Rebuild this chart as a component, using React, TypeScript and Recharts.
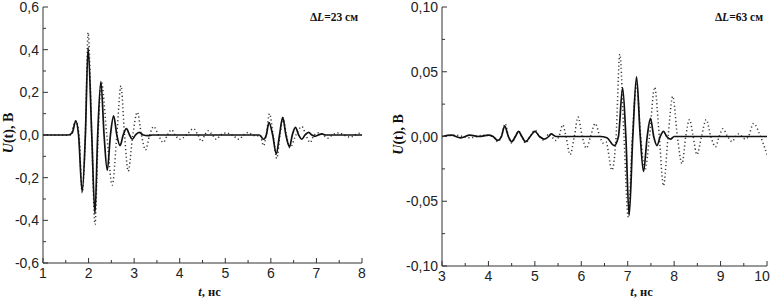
import React from 'react';
import { LineChart, Line, XAxis, YAxis, Label } from 'recharts';

// left panel, ΔL = 23 см : [t (нс), U (В)]
const leftSolid: [number, number][] = [
  [1.0, 0], [1.55, 0], [1.64, 0.01], [1.72, 0.066], [1.78, 0], [1.86, -0.266], [1.93, 0], [1.99, 0.41],
  [2.07, 0], [2.14, -0.37], [2.2, 0], [2.27, 0.25], [2.34, 0], [2.41, -0.165], [2.48, 0], [2.55, 0.09],
  [2.62, 0], [2.69, -0.05], [2.76, 0], [2.83, 0.03], [2.9, 0], [2.96, -0.02], [3.03, 0], [3.11, 0.012],
  [3.2, 0], [3.3, -0.003], [3.4, 0], [5.75, 0], [5.84, -0.02], [5.9, 0], [5.96, 0.058], [6.04, 0],
  [6.12, -0.089], [6.19, 0], [6.26, 0.083], [6.33, 0], [6.41, -0.055], [6.47, 0], [6.54, 0.036], [6.61, 0],
  [6.68, -0.02], [6.75, 0], [6.83, 0.012], [6.9, 0], [6.97, -0.006], [7.04, 0], [7.12, 0.005], [7.2, 0], [8, 0],
];
const leftDotted: [number, number][] = [
  [1, 0], [1.6, 0], [1.72, 0.066], [1.79, 0], [1.86, -0.27], [1.93, 0], [1.99, 0.48], [2.07, 0],
  [2.14, -0.42], [2.21, 0], [2.28, 0.25], [2.4, 0], [2.52, -0.235], [2.62, 0], [2.71, 0.23], [2.79, 0],
  [2.87, -0.17], [2.97, 0], [3.07, 0.107], [3.16, 0], [3.25, -0.07], [3.34, 0], [3.43, 0.04], [3.53, 0],
  [3.64, -0.035], [3.73, 0], [3.82, 0.025], [3.9, 0], [4.0, -0.02], [4.15, 0], [4.3, 0.03], [4.4, 0],
  [4.48, -0.03], [4.55, 0], [4.62, 0.02], [4.72, 0], [4.8, -0.02], [4.9, 0], [5.02, 0.01], [5.15, 0],
  [5.3, -0.02], [5.4, 0], [5.5, 0.012], [5.6, 0], [5.7, -0.005], [5.76, 0], [5.84, -0.05], [5.9, 0],
  [5.97, 0.1], [6.05, 0], [6.13, -0.11], [6.2, 0], [6.27, 0.08], [6.34, 0], [6.42, -0.06], [6.55, 0],
  [6.68, 0.04], [6.77, 0], [6.86, -0.035], [6.95, 0], [7.05, 0.01], [7.15, 0], [7.25, -0.015], [7.35, 0],
  [7.5, 0.01], [7.6, 0], [7.75, -0.01], [7.85, 0], [7.95, 0.008], [8, 0],
];

// right panel, ΔL = 63 см
const rightSolid: [number, number][] = [
  [3, 0], [3.2, 0.001], [3.4, -0.001], [3.6, 0.001], [3.8, 0], [4.0, 0.001], [4.1, 0], [4.2, -0.003],
  [4.28, 0], [4.35, 0.008], [4.43, 0], [4.5, -0.004], [4.58, 0], [4.65, 0.004], [4.72, 0], [4.8, -0.004],
  [4.9, 0], [5.0, 0.004], [5.1, 0], [5.2, -0.002], [5.3, 0], [5.35, 0.002], [5.45, 0], [6.4, 0],
  [6.55, -0.001], [6.71, -0.007], [6.8, 0], [6.89, 0.0376], [6.96, 0], [7.03, -0.061], [7.11, 0],
  [7.19, 0.046], [7.27, 0], [7.34, -0.027], [7.42, 0], [7.49, 0.014], [7.56, 0], [7.63, -0.007], [7.7, 0],
  [7.77, 0.004], [7.84, 0], [7.92, -0.002], [8.0, 0], [10, 0],
];
const rightDotted: [number, number][] = [
  [3, 0], [3.3, 0.001], [3.6, -0.001], [3.9, 0.001], [4.1, 0], [4.2, -0.004], [4.28, 0], [4.36, 0.01],
  [4.43, 0], [4.5, -0.005], [4.58, 0], [4.65, 0.004], [4.72, 0], [4.8, -0.005], [4.9, 0], [5.0, 0.005],
  [5.1, 0], [5.2, -0.003], [5.3, 0.002], [5.45, -0.003], [5.52, 0], [5.6, 0.009], [5.67, 0], [5.76, -0.014],
  [5.85, 0], [5.93, 0.015], [6.02, 0], [6.11, -0.009], [6.2, 0], [6.3, 0.01], [6.4, 0], [6.47, -0.005],
  [6.53, -0.004], [6.66, -0.026], [6.75, 0], [6.83, 0.0635], [6.92, 0], [7.01, -0.062], [7.1, 0],
  [7.19, 0.04], [7.28, 0], [7.37, -0.026], [7.47, 0], [7.58, 0.038], [7.68, 0], [7.77, -0.038], [7.87, 0],
  [7.97, 0.031], [8.07, 0], [8.17, -0.021], [8.25, 0], [8.33, 0.013], [8.41, 0], [8.49, -0.014], [8.59, 0],
  [8.69, 0.013], [8.79, 0], [8.89, -0.008], [8.97, 0], [9.05, 0.006], [9.15, 0], [9.25, -0.004], [9.32, 0],
  [9.39, 0.002], [9.46, 0], [9.53, -0.002], [9.6, 0], [9.71, 0.01], [9.86, 0], [10, -0.014],
];

// ticks: even index = major (labelled), odd index = minor
const leftXTicks = [1, 1.5, 2, 2.5, 3, 3.5, 4, 4.5, 5, 5.5, 6, 6.5, 7, 7.5, 8];
const leftXLabels = ['1', '2', '3', '4', '5', '6', '7', '8'];
const leftYTicks = [-0.6, -0.5, -0.4, -0.3, -0.2, -0.1, 0, 0.1, 0.2, 0.3, 0.4, 0.5, 0.6];
const leftYLabels = ['-0,6', '-0,4', '-0,2', '0,0', '0,2', '0,4', '0,6'];
const rightXTicks = [3, 3.5, 4, 4.5, 5, 5.5, 6, 6.5, 7, 7.5, 8, 8.5, 9, 9.5, 10];
const rightXLabels = ['3', '4', '5', '6', '7', '8', '9', '10'];
const rightYTicks = [-0.1, -0.075, -0.05, -0.025, 0, 0.025, 0.05, 0.075, 0.1];
const rightYLabels = ['-0,10', '-0,05', '0,00', '0,05', '0,10'];

const toRows = (pts: [number, number][]) => pts.map(([t, u]) => ({ t, u }));

const AXIS = '#333';
const tickFont = { fontFamily: 'Liberation Sans, Arial, sans-serif', fontSize: 14, fill: '#222' };
const serif = 'Liberation Serif, Times New Roman, serif';

const makeXTick = (labels: string[], lastShift: number) => (props: any) => {
  const { x, y, index } = props;
  const major = index % 2 === 0;
  const isLast = index / 2 === labels.length - 1;
  return (
    <g>
      <line x1={x} y1={y} x2={x} y2={y - (major ? 5 : 3)} stroke={AXIS} />
      {major && (
        <text x={x + (isLast ? lastShift : 0)} y={y + 15} textAnchor="middle" {...tickFont}>
          {labels[index / 2]}
        </text>
      )}
    </g>
  );
};

const makeYTick = (labels: string[]) => (props: any) => {
  const { x, y, index } = props;
  const major = index % 2 === 0;
  return (
    <g>
      <line x1={x} y1={y} x2={x + (major ? 5 : 3)} y2={y} stroke={AXIS} />
      {major && <text x={x - 4} y={y + 5} textAnchor="end" {...tickFont}>{labels[index / 2]}</text>}
    </g>
  );
};

type PanelProps = {
  width: number;
  solid: [number, number][];
  dotted: [number, number][];
  xDomain: [number, number];
  yDomain: [number, number];
  xTicks: number[];
  xLabels: string[];
  yTicks: number[];
  yLabels: string[];
  yAxisWidth: number;
  xAxisHeight: number;
  marginRight: number;
  deltaL: string;
  xTitleShift: number;
  lastShift: number;
};

const Panel = (p: PanelProps) => (
  <LineChart width={p.width} height={299} margin={{ top: 7, right: p.marginRight, left: 0, bottom: 0 }}>
    <XAxis
      type="number"
      dataKey="t"
      domain={p.xDomain}
      ticks={p.xTicks}
      interval={0}
      allowDataOverflow
      height={p.xAxisHeight}
      stroke={AXIS}
      tickLine={false}
      tickSize={0}
      tickMargin={0}
      tick={makeXTick(p.xLabels, p.lastShift)}
    >
      <Label
        content={({ viewBox }: any) => (
          <text x={viewBox.x + viewBox.width / 2 + p.xTitleShift} y={296} textAnchor="middle"
            fontFamily={serif} fontWeight="bold" fontSize={12.5} fill="#111">
            <tspan fontStyle="italic">t</tspan>, нс
          </text>
        )}
      />
    </XAxis>
    <YAxis
      type="number"
      domain={p.yDomain}
      ticks={p.yTicks}
      interval={0}
      allowDataOverflow
      width={p.yAxisWidth}
      stroke={AXIS}
      tickLine={false}
      tickSize={0}
      tickMargin={0}
      tick={makeYTick(p.yLabels)}
    >
      <Label
        content={({ viewBox }: any) => {
          const cx = 8;
          const cy = viewBox.y + viewBox.height / 2 - 2;
          return (
            <text x={cx} y={cy} transform={`rotate(-90 ${cx} ${cy})`} textAnchor="middle" dominantBaseline="central"
              fontFamily={serif} fontWeight="bold" fontSize={14} fill="#111">
              <tspan fontStyle="italic">U</tspan>(t), В
            </text>
          );
        }}
      />
    </YAxis>
    <Line data={toRows(p.dotted)} dataKey="u" type="monotone" stroke="#3a3a3a" strokeWidth={1.5}
      strokeDasharray="1.2 2.6" dot={false} activeDot={false} isAnimationActive={false} />
    <Line data={toRows(p.solid)} dataKey="u" type="monotone" stroke="#111" strokeWidth={1.7}
      dot={false} activeDot={false} isAnimationActive={false} />
    <text x={p.width - p.marginRight - 4} y={21} textAnchor="end" fontFamily={serif} fontWeight="bold" fontSize={11.5} fill="#111">
      Δ<tspan fontStyle="italic">L</tspan>={p.deltaL} см
    </text>
  </LineChart>
);

export default function App() {
  return (
    <div style={{ position: 'absolute', left: 0, top: 0, width: 773, height: 299, background: '#fff', overflow: 'hidden' }}>
      <div style={{ position: 'absolute', left: 0, top: 0 }}>
        <Panel width={380} solid={leftSolid} dotted={leftDotted} xDomain={[1, 8]} yDomain={[-0.6, 0.6]}
          xTicks={leftXTicks} xLabels={leftXLabels} yTicks={leftYTicks} yLabels={leftYLabels}
          yAxisWidth={43} xAxisHeight={36} marginRight={18} deltaL="23" xTitleShift={7} lastShift={0} />
      </div>
      <div style={{ position: 'absolute', left: 390, top: 0 }}>
        <Panel width={383} solid={rightSolid} dotted={rightDotted} xDomain={[3, 10]} yDomain={[-0.1, 0.1]}
          xTicks={rightXTicks} xLabels={rightXLabels} yTicks={rightYTicks} yLabels={rightYLabels}
          yAxisWidth={52} xAxisHeight={33} marginRight={6} deltaL="63" xTitleShift={37} lastShift={-5} />
      </div>
    </div>
  );
}
